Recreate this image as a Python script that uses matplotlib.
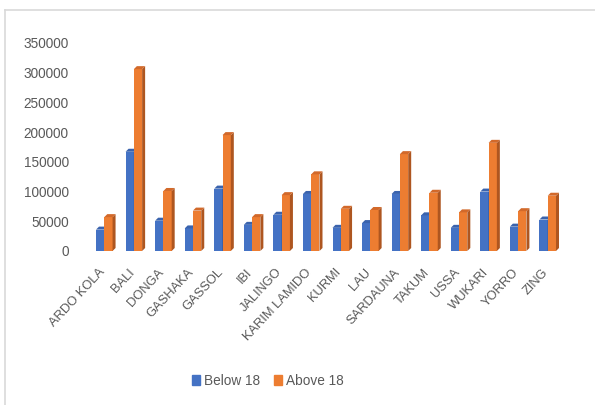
import matplotlib
matplotlib.use("Agg")
import matplotlib.pyplot as plt
import matplotlib.patches as patches
import matplotlib.transforms as mtransforms
from matplotlib.lines import Line2D

plt.rcParams["font.family"] = ["Liberation Sans", "DejaVu Sans"]

# data
lgas = ["ARDO KOLA", "BALI", "DONGA", "GASHAKA", "GASSOL", "IBI", "JALINGO",
        "KARIM LAMIDO", "KURMI", "LAU", "SARDAUNA", "TAKUM", "USSA", "WUKARI",
        "YORRO", "ZING"]
below_18 = [36000, 167000, 51000, 38000, 105000, 44000, 61000, 96000,
            39000, 47000, 96000, 60000, 39000, 100000, 41000, 53000]
above_18 = [57000, 306000, 101000, 68000, 195000, 57000, 94000, 129000,
            71000, 69000, 163000, 98000, 65000, 182000, 67000, 93000]
yticks = [0, 50000, 100000, 150000, 200000, 250000, 300000, 350000]

BLUE, BLUE_SIDE, BLUE_TOP = "#4472C4", "#2F4F8F", "#3A63AD"
ORANGE, ORANGE_SIDE, ORANGE_TOP = "#ED7D31", "#AE5620", "#D2692A"
TEXT = "#595959"

W, H = 595, 405
fig = plt.figure(figsize=(W / 100, H / 100), dpi=100)

# chart border (top and left only visible)
fig.add_artist(Line2D([5 / W, 5 / W], [0, 1 - 10 / H], color="#D9D9D9", lw=1.2))
fig.add_artist(Line2D([5 / W, 1], [1 - 10 / H, 1 - 10 / H], color="#D9D9D9", lw=1.2))

left, right = 89.5, 562.5
top, bottom = 43, 251
ax = fig.add_axes([left / W, 1 - bottom / H, (right - left) / W, (bottom - top) / H])

n = len(lgas)
ax.set_xlim(-0.5, n - 0.5)
ax.set_ylim(0, 350000)

bw = 0.28
dx = 3 / ((right - left) / n)          # depth offset in data units (x)
dy = 3 * 350000 / (bottom - top)        # depth offset in data units (y)


def bar3d(x, h, front, side, topc):
    x0, x1 = x - bw / 2, x + bw / 2
    ax.add_patch(patches.Rectangle((x0, 0), bw, h, facecolor=front,
                                   edgecolor="none", clip_on=False, zorder=2))
    ax.add_patch(patches.Polygon([(x1, 0), (x1 + dx, dy), (x1 + dx, h + dy), (x1, h)],
                                 facecolor=side, edgecolor="none", clip_on=False, zorder=2))
    ax.add_patch(patches.Polygon([(x0, h), (x0 + dx, h + dy), (x1 + dx, h + dy), (x1, h)],
                                 facecolor=topc, edgecolor="none", clip_on=False, zorder=2))


for i in range(n):
    bar3d(i - bw / 2, below_18[i], BLUE, BLUE_SIDE, BLUE_TOP)
    bar3d(i + bw / 2, above_18[i], ORANGE, ORANGE_SIDE, ORANGE_TOP)

for s in ax.spines.values():
    s.set_visible(False)

ax.set_yticks(yticks)
ax.set_yticklabels([str(v) for v in yticks], fontsize=9.8, color=TEXT)
ax.set_xticks(range(n))
ax.set_xticklabels(lgas, fontsize=9.3, color=TEXT, rotation=47,
                   ha="right", va="top", rotation_mode="anchor")
ax.tick_params(axis="both", length=0)
ax.tick_params(axis="y", pad=15)
ax.tick_params(axis="x", pad=11)

# nudge category labels a little to the left
shift = mtransforms.ScaledTranslation(-6 / 100, 0, fig.dpi_scale_trans)
for lbl in ax.get_xticklabels():
    lbl.set_transform(lbl.get_transform() + shift)

handles = [patches.Patch(color=BLUE, label="Below 18"),
           patches.Patch(color=ORANGE, label="Above 18")]
fig.legend(handles=handles, loc="center", bbox_to_anchor=(268 / W, 1 - 381 / H),
           ncol=2, frameon=False, fontsize=9.8, labelcolor=TEXT,
           handlelength=0.6, handleheight=0.8, handletextpad=0.3, columnspacing=1.0)

fig.savefig("out.png", dpi=100)
